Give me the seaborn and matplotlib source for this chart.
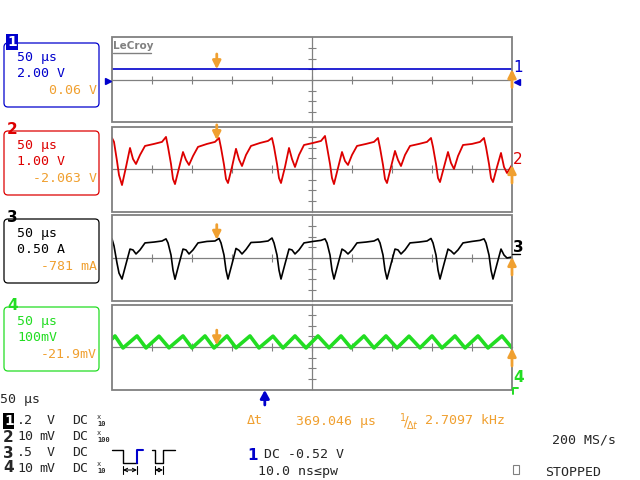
import numpy as np
import matplotlib
matplotlib.use("Agg")
import matplotlib.pyplot as plt
import seaborn as sns
from matplotlib.patches import Rectangle, FancyBboxPatch

# time axis in microseconds (50 us/div, 10 div)
t_blue = [0, 500]
ch1_volts = [2.02, 2.02]

t_wave = [0, 2.5, 6.25, 8.75,
          12.5, 17.5, 22.5, 26.25, 30, 35, 41.25, 52.5, 62.5, 67.5, 70, 73.75, 76.25,
          78.75, 83.75, 88.75, 92.5, 96.25, 101.25, 107.5, 118.75, 128.75, 133.75, 136.25, 140, 142.5,
          145, 150, 155, 158.75, 162.5, 167.5, 173.75, 185, 195, 200, 202.5, 206.25, 208.75,
          211.25, 216.25, 221.25, 225, 228.75, 233.75, 240, 251.25, 261.25, 266.25, 268.75, 272.5, 275,
          277.5, 282.5, 287.5, 291.25, 295, 300, 306.25, 317.5, 327.5, 332.5, 335, 338.75, 341.25,
          343.75, 348.75, 353.75, 357.5, 361.25, 366.25, 372.5, 383.75, 393.75, 398.75, 401.25, 405, 407.5,
          410, 415, 420, 423.75, 427.5, 432.5, 438.75, 450, 460, 465, 467.5, 471.25, 473.75,
          476.25, 481.25, 486.25, 490, 493.75, 500]

ch2_volts = [2.92, 2.55, 0.75, -0.57,
             -1.51, 0.19, 1.98, 0.94, 0.47, 1.32, 2.17, 2.36, 2.55, 3.02, 2.08, 0.47, -0.94,
             -1.42, 0.09, 1.60, 0.85, 0.38, 1.22, 2.08, 2.36, 2.55, 2.92, 2.00, 0.40, -0.94,
             -1.32, 0.19, 1.90, 0.90, 0.28, 1.32, 2.17, 2.45, 2.64, 2.92, 2.08, 0.47, -0.85,
             -1.32, 0.19, 1.98, 0.94, 0.19, 1.32, 2.26, 2.45, 2.64, 3.11, 2.08, 0.47, -0.85,
             -1.42, 0.09, 1.60, 0.75, 0.38, 1.32, 2.17, 2.36, 2.55, 2.92, 2.00, 0.38, -0.94,
             -1.32, 0.19, 1.70, 0.85, 0.28, 1.32, 2.17, 2.36, 2.55, 2.92, 2.08, 0.47, -0.85,
             -1.23, 0.19, 1.60, 0.57, 0.00, 1.22, 2.26, 2.36, 2.55, 2.92, 2.08, 0.47, -0.85,
             -1.23, 0.19, 1.51, 0.19, -0.38, 0.38]

ch3_amps = [0.90, 0.57, -0.24, -0.71,
            -0.99, -0.28, 0.42, 0.38, 0.19, 0.38, 0.71, 0.75, 0.80, 0.90, 0.71, 0.14, -0.57,
            -1.00, -0.28, 0.42, 0.38, 0.19, 0.38, 0.71, 0.78, 0.80, 0.92, 0.71, 0.14, -0.57,
            -0.99, -0.28, 0.45, 0.36, 0.19, 0.40, 0.73, 0.75, 0.80, 0.94, 0.71, 0.14, -0.57,
            -0.99, -0.28, 0.42, 0.38, 0.19, 0.38, 0.71, 0.78, 0.83, 0.90, 0.71, 0.14, -0.57,
            -0.99, -0.28, 0.42, 0.33, 0.19, 0.38, 0.71, 0.75, 0.80, 0.90, 0.71, 0.14, -0.57,
            -0.99, -0.28, 0.42, 0.38, 0.19, 0.38, 0.71, 0.75, 0.80, 0.92, 0.71, 0.14, -0.57,
            -0.99, -0.28, 0.42, 0.33, 0.19, 0.38, 0.71, 0.78, 0.83, 0.90, 0.71, 0.14, -0.57,
            -0.99, -0.28, 0.42, 0.14, 0.00, 0.05]

t_green = [0, 3.75, 13.75, 31.25, 42.5, 58.75, 71.25, 88.75, 100, 116.25, 127.5, 143.75, 155,
           172.5, 183.75, 201.25, 213.75, 228.75, 242.5, 257.5, 271.25, 286.25, 298.75, 315,
           327.5, 342.5, 356.25, 371.25, 385, 400, 412.5, 428.75, 441.25, 457.5, 470, 487.5, 500]
ch4_mv = [75, 104, -9, 104, -9, 102, -8, 104, -9, 104, -9, 104, -8, 104, -9, 102, -9, 104, -9,
          104, -8, 104, -9, 104, -9, 104, -9, 102, -8, 104, -9, 104, -9, 104, -9, 104, -9]

per_div = [2.0, 1.0, 0.5, 100.0]
timebase = "50 µs"
scale_txt = ["2.00 V", "1.00 V", "0.50 A", "100mV"]
cursor_txt = ["0.06 V", "-2.063 V", "-781 mA", "-21.9mV"]
delta_t = 369.046
cursor2 = 500.0
cursor1 = cursor2 - delta_t
trig_time = 191.0

BLUE = "#0000cc"
RED = "#dd0000"
BLACK = "#000000"
GREEN = "#22dd22"
ORANGE = "#f0a030"
GRAY = "#808080"
colors = [BLUE, RED, BLACK, GREEN]

sns.set_style("white")
plt.rcParams["font.family"] = ["DejaVu Sans Mono", "DejaVu Sans"]

fig = plt.figure(figsize=(6.4, 4.8), dpi=100)

traces = [(t_blue, ch1_volts), (t_wave, ch2_volts), (t_wave, ch3_amps), (t_green, ch4_mv)]
widths = [1.2, 1.3, 1.2, 2.6]
tops = [37.5, 126.5, 215.5, 304.5]
arr = dict(arrowstyle="-|>,head_length=0.4,head_width=0.2", color=ORANGE,
           lw=2.0, shrinkA=0, shrinkB=0, mutation_scale=12)
for i, top in enumerate(tops):
    ax = fig.add_axes([112 / 640, 1 - (top + 85) / 480, 400 / 640, 85 / 480])
    ax.set_facecolor("none")
    tt, vv = traces[i]
    sns.lineplot(x=tt, y=vv, ax=ax, color=colors[i], linewidth=widths[i],
                 sort=False, estimator=None, zorder=3)
    vd = per_div[i]
    ax.set_xlim(0, 500)
    ax.set_ylim(-4 * vd, 4 * vd)
    ax.spines["left"].set_position(("data", 250))
    ax.spines["bottom"].set_position(("data", 0))
    for s in ["top", "right"]:
        ax.spines[s].set_visible(False)
    for s in ["left", "bottom"]:
        ax.spines[s].set_color(GRAY)
        ax.spines[s].set_linewidth(0.9)
    ax.set_xticks(np.arange(50, 500, 50))
    ax.set_yticks([k * vd for k in (-3, -2, -1, 1, 2, 3)])
    ax.tick_params(direction="inout", length=6, width=0.8, color=GRAY,
                   labelbottom=False, labelleft=False, bottom=True, left=True)
    ax.set_xlabel("")
    ax.set_ylabel("")
    ax.add_patch(Rectangle((0, 0), 1, 1, transform=ax.transAxes, fill=False,
                           ec=GRAY, lw=1.3, clip_on=False, zorder=4))
    # cursor markers
    y1 = np.interp(cursor1, tt, vv)
    y2 = np.interp(cursor2, tt, vv)
    ax.annotate("", xy=(cursor1, y1), xytext=(0, 11), textcoords="offset points",
                arrowprops=arr, annotation_clip=False, zorder=5)
    ax.annotate("", xy=(cursor2, y2), xytext=(0, -13), textcoords="offset points",
                arrowprops=arr, annotation_clip=False, zorder=5)

# overlay in pixel coordinates for the scope's readouts
ov = fig.add_axes([0, 0, 1, 1])
ov.set_xlim(0, 640)
ov.set_ylim(480, 0)
ov.axis("off")

fs = 9.5
boxes = [43, 131, 219, 307]
for i, by in enumerate(boxes):
    c = colors[i]
    ov.add_patch(FancyBboxPatch((4, by), 95, 64, boxstyle="round,pad=0,rounding_size=4",
                                fill=False, ec=c, lw=0.9))
    ov.text(17, by + 14.5, timebase, color=c, fontsize=fs, va="center")
    ov.text(17, by + 30.5, scale_txt[i], color=c, fontsize=fs, va="center")
    ov.text(97, by + 47, cursor_txt[i], color=ORANGE, fontsize=fs, va="center", ha="right")
    if i == 0:
        ov.text(7, by - 1, str(i + 1), color="white", fontsize=10, weight="bold",
                family="DejaVu Sans", va="center", ha="left",
                bbox=dict(boxstyle="square,pad=0.08", fc=c, ec="none"))
    else:
        ov.text(7, by - 2, str(i + 1), color=c, fontsize=11, weight="bold",
                family="DejaVu Sans", va="center", ha="left")

# LeCroy logo
ov.text(113, 46, "LeCroy", color=GRAY, fontsize=7.5, weight="bold", family="DejaVu Sans",
        va="center")
ov.plot([113, 151], [53, 53], color=GRAY, lw=1)

# channel labels on the right
ov.text(513, 68, "1", color=BLUE, fontsize=11, family="DejaVu Sans", va="center")
ov.plot([517], [82], marker="<", color=BLUE, ms=4)
ov.plot([108], [81], marker=">", color=BLUE, ms=5)
ov.text(513, 159, "2", color=RED, fontsize=11, family="DejaVu Sans", va="center")
ov.text(513, 247, "3", color=BLACK, fontsize=11, weight="bold", family="DejaVu Sans", va="center")
ov.plot([512, 520], [254, 254], color=BLACK, lw=1)
ov.text(513, 378, "4", color=GREEN, fontsize=11, weight="bold", family="DejaVu Sans", va="center")
ov.plot([513, 513, 518], [394, 388, 388], color=GREEN, lw=1.4)

# trigger position marker
ov.annotate("", xy=(112 + trig_time * 0.8, 390), xytext=(112 + trig_time * 0.8, 405),
            arrowprops=dict(arrowstyle="-|>,head_length=0.4,head_width=0.22", color=BLUE,
                            lw=2.0, shrinkA=0, shrinkB=0, mutation_scale=12))

# lower-left channel setup table
ov.text(0, 399, timebase, fontsize=fs, va="center")
rows = [421, 437, 453, 468]
vals = [".2", "10", ".5", "10"]
unit = ["V", "mV", "V", "mV"]
probe = ["10", "100", "", "10"]
for i, ry in enumerate(rows):
    if i == 0:
        ov.text(4, ry, "1", color="white", fontsize=10, weight="bold", family="DejaVu Sans",
                va="center", bbox=dict(boxstyle="square,pad=0.05", fc="black", ec="none"))
    else:
        ov.text(3, ry, str(i + 1), fontsize=11, weight="bold", family="DejaVu Sans", va="center")
    ov.text(33, ry, vals[i], fontsize=fs, va="center", ha="right")
    ov.text(55, ry, unit[i], fontsize=fs, va="center", ha="right")
    ov.text(72, ry, "DC", fontsize=fs, va="center")
    if probe[i]:
        ov.text(97, ry - 4, "x", fontsize=5, va="center")
        ov.text(97, ry + 3, probe[i], fontsize=5, va="center", weight="bold")

# pulse width trigger icons
ov.plot([112, 123, 123, 137], [450, 450, 463, 463], color="black", lw=1)
ov.plot([137, 137, 143], [463, 450, 450], color=BLUE, lw=1.5)
ov.plot([152, 155, 155, 163, 163, 175], [450, 450, 463, 463, 450, 450], color="black", lw=1)
for a, b in [(123, 137), (155, 163)]:
    ov.annotate("", xy=(a, 470), xytext=(b, 470),
                arrowprops=dict(arrowstyle="<->", lw=0.8, color="black", shrinkA=0, shrinkB=0,
                                mutation_scale=6))
    ov.plot([a, a], [466, 474], color="black", lw=0.8)
    ov.plot([b, b], [466, 474], color="black", lw=0.8)

# cursor readout
ov.text(247, 421, "Δt", color=ORANGE, fontsize=fs, va="center")
ov.text(296, 421, f"{delta_t:.3f} µs", color=ORANGE, fontsize=fs, va="center")
ov.text(399, 421, r"$^{1}\!/\!_{\Delta t}$", color=ORANGE, fontsize=10, va="center")
ov.text(425, 421, f"{1000 / delta_t:.4f} kHz", color=ORANGE, fontsize=fs, va="center")

ov.text(552, 440, "200 MS/s", fontsize=fs, va="center")
ov.text(247, 455, "1", color=BLUE, fontsize=11, weight="bold", family="DejaVu Sans", va="center")
ov.text(264, 455, "DC -0.52 V", fontsize=fs, va="center")
ov.text(258, 472, "10.0 ns≤pw", fontsize=fs, va="center")
ov.add_patch(Rectangle((513, 465), 6, 9, fill=False, ec=GRAY, lw=0.8))
ov.text(545, 472, "STOPPED", fontsize=fs, va="center")

fig.savefig("out.png", dpi=100)
